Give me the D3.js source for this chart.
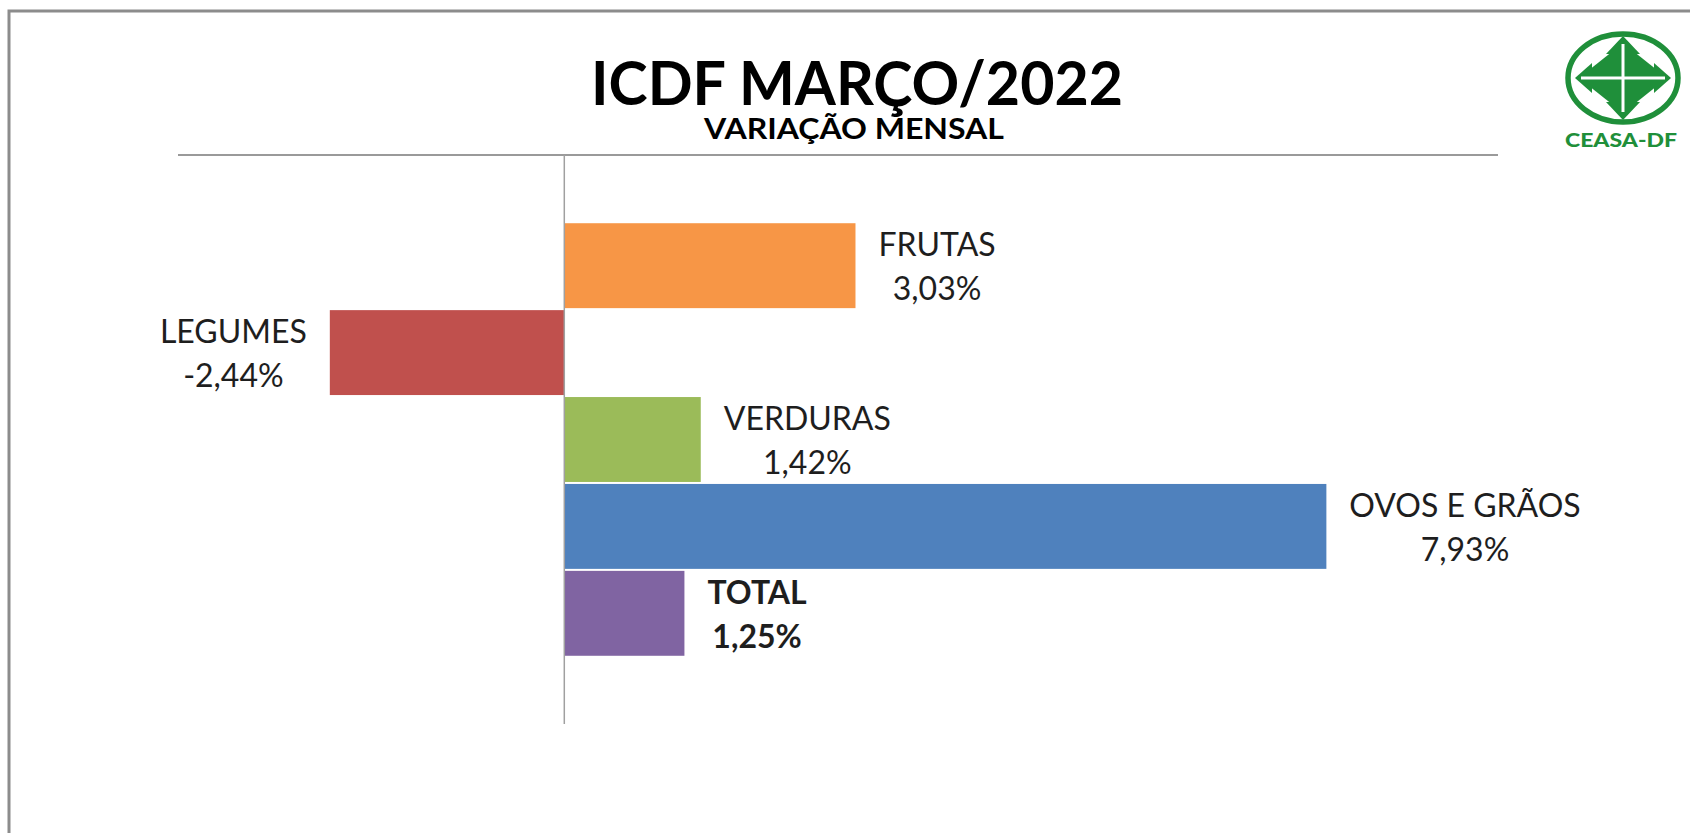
<!DOCTYPE html>
<html>
<head>
<meta charset="utf-8">
<script src="https://cdn.jsdelivr.net/npm/d3@7"></script>
<style>
  html, body { margin: 0; padding: 0; background: #fff; overflow: hidden; }
  svg { display: block; font-family: Lato, "Open Sans", sans-serif; }
</style>
</head>
<body>
<svg width="1690" height="833"></svg>
<script>
// dados do gráfico
const categories = ["FRUTAS", "LEGUMES", "VERDURAS", "OVOS E GRÃOS", "TOTAL"];
const values = [3.03, -2.44, 1.42, 7.93, 1.25];
const barColors = ["#F79646", "#C0504D", "#9BBB59", "#4F81BD", "#8064A2"];
const title = "ICDF MARÇO/2022";
const subtitle = "VARIAÇÃO MENSAL";

const svg = d3.select("svg");

// moldura cinza
svg.append("rect")
   .attr("x", 9).attr("y", 11)
   .attr("width", 1700).attr("height", 900)
   .attr("fill", "none")
   .attr("stroke", "#8c8c8c")
   .attr("stroke-width", 3);

// escalas
const x = d3.scaleLinear().domain([-5, 10]).range([83.8, 1525.3]);
const y = d3.scaleBand()
            .domain(categories)
            .range([155, 724])
            .paddingInner(0.023)
            .paddingOuter(0.785);
const color = d3.scaleOrdinal(categories, barColors);

// título
svg.append("text")
   .attr("x", 857).attr("y", 105)
   .attr("text-anchor", "middle")
   .attr("font-weight", 700)
   .attr("font-size", 62)
   .attr("textLength", 532)
   .attr("lengthAdjust", "spacingAndGlyphs")
   .attr("fill", "#000")
   .text(title);

svg.append("text")
   .attr("x", 854).attr("y", 139)
   .attr("text-anchor", "middle")
   .attr("font-weight", 700)
   .attr("font-size", 29)
   .attr("textLength", 300)
   .attr("lengthAdjust", "spacingAndGlyphs")
   .attr("fill", "#000")
   .text(subtitle);

// linha horizontal
svg.append("line")
   .attr("x1", 178).attr("x2", 1498)
   .attr("y1", 155).attr("y2", 155)
   .attr("stroke", "#9a9a9a").attr("stroke-width", 2);

// barras
svg.selectAll(".bar")
   .data(values)
   .enter()
   .append("rect")
   .attr("class", "bar")
   .attr("x", d => x(Math.min(0, d)))
   .attr("width", d => Math.abs(x(d) - x(0)))
   .attr("y", (d, i) => y(categories[i]))
   .attr("height", y.bandwidth())
   .attr("fill", (d, i) => color(categories[i]));

// eixo zero
svg.append("line")
   .attr("x1", x(0)).attr("x2", x(0))
   .attr("y1", y.range()[0]).attr("y2", y.range()[1])
   .attr("stroke", "#a0a0a0").attr("stroke-width", 1.5);

// rótulos
const br = d3.formatLocale({ decimal: ",", thousands: ".", grouping: [3], currency: ["R$", ""], minus: "-" });
const fmt = br.format(".2f");

const labels = svg.selectAll(".label")
   .data(values)
   .enter()
   .append("g")
   .attr("class", "label")
   .attr("font-size", 32)
   .attr("fill", "#1e1e1e")
   .attr("font-weight", (d, i) => categories[i] === "TOTAL" ? 700 : 400);

labels.append("text")
   .attr("class", "l1")
   .attr("text-anchor", "middle")
   .attr("y", (d, i) => y(categories[i]) + y.bandwidth() / 2 - 9.5)
   .text((d, i) => categories[i]);

labels.append("text")
   .attr("class", "l2")
   .attr("text-anchor", "middle")
   .attr("y", (d, i) => y(categories[i]) + y.bandwidth() / 2 + 34.5)
   .text(d => fmt(d) + "%");

// posiciona o bloco de texto ao lado da barra
labels.each(function(d) {
   const g = d3.select(this);
   const w = Math.max(g.select(".l1").node().getComputedTextLength(),
                      g.select(".l2").node().getComputedTextLength());
   const cx = d >= 0 ? x(d) + 23 + w / 2 : x(d) - 23 - w / 2;
   g.selectAll("text").attr("x", cx);
});

// logo CEASA-DF
const green = "#1f8f3a";
const logo = svg.append("g").attr("transform", "translate(1623,78)");
logo.append("ellipse")
    .attr("rx", 55).attr("ry", 44)
    .attr("fill", "none")
    .attr("stroke", green)
    .attr("stroke-width", 5.5);
logo.append("polygon")
    .attr("points", "0,-35 44,0 0,35 -44,0")
    .attr("fill", green);
[[0, -42, -17, -24, 17, -24], [0, 42, -17, 24, 17, 24],
 [-48, 0, -31, -15, -31, 15], [48, 0, 31, -15, 31, 15]].forEach(p => {
   logo.append("polygon")
       .attr("points", `${p[0]},${p[1]} ${p[2]},${p[3]} ${p[4]},${p[5]}`)
       .attr("fill", green);
});
logo.append("line").attr("x1", 0).attr("x2", 0).attr("y1", -34).attr("y2", 34)
    .attr("stroke", "#fff").attr("stroke-width", 3);
logo.append("line").attr("x1", -42).attr("x2", 42).attr("y1", 0).attr("y2", 0)
    .attr("stroke", "#fff").attr("stroke-width", 3);
svg.append("text")
   .attr("x", 1621).attr("y", 147)
   .attr("text-anchor", "middle")
   .attr("font-weight", 900)
   .attr("font-size", 18)
   .attr("textLength", 112)
   .attr("lengthAdjust", "spacingAndGlyphs")
   .attr("fill", green)
   .text("CEASA-DF");
</script>
</body>
</html>
